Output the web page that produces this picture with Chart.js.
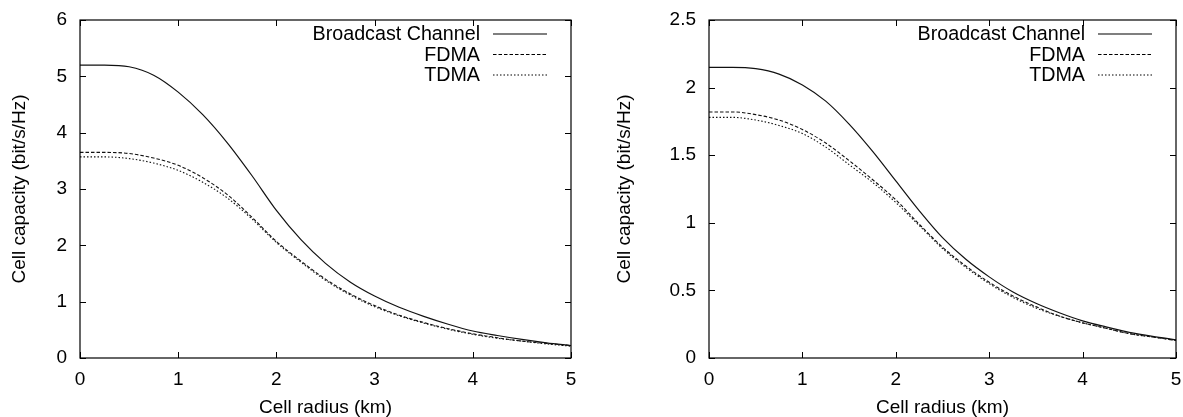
<!DOCTYPE html>
<html>
<head>
<meta charset="utf-8">
<script src="https://cdn.jsdelivr.net/npm/chart.js@4/dist/chart.umd.min.js"></script>
<style>
  body { margin: 0; background: #fff; }
  #left { position: absolute; left: 0; top: 0; }
  #right { position: absolute; left: 600px; top: 0; }
</style>
</head>
<body>
<canvas id="left" width="600" height="417"></canvas>
<canvas id="right" width="583" height="417"></canvas>
<script>
const radius = [0, 0.25, 0.5, 0.75, 1, 1.25, 1.5, 1.75, 2, 2.25, 2.5, 2.75, 3, 3.25, 3.5, 3.75, 4, 4.25, 4.5, 4.75, 5];
const seriesNames = ['Broadcast Channel', 'FDMA', 'TDMA'];

// left plot
const leftBroadcast = [5.20, 5.20, 5.17, 5.02, 4.72, 4.32, 3.82, 3.24, 2.62, 2.10, 1.68, 1.35, 1.10, 0.90, 0.74, 0.60, 0.48, 0.40, 0.33, 0.27, 0.22];
const leftFdma = [3.65, 3.65, 3.63, 3.55, 3.42, 3.20, 2.90, 2.50, 2.07, 1.72, 1.40, 1.14, 0.93, 0.76, 0.63, 0.52, 0.43, 0.36, 0.30, 0.26, 0.22];
const leftTdma = [3.57, 3.57, 3.54, 3.46, 3.33, 3.12, 2.84, 2.47, 2.05, 1.70, 1.38, 1.12, 0.91, 0.75, 0.62, 0.51, 0.42, 0.35, 0.30, 0.25, 0.21];

// right plot
const rightBroadcast = [2.15, 2.15, 2.14, 2.10, 2.02, 1.90, 1.73, 1.53, 1.31, 1.09, 0.89, 0.73, 0.60, 0.49, 0.405, 0.335, 0.275, 0.23, 0.19, 0.16, 0.135];
const rightFdma = [1.82, 1.82, 1.80, 1.76, 1.69, 1.59, 1.46, 1.32, 1.17, 0.99, 0.82, 0.68, 0.56, 0.46, 0.38, 0.31, 0.26, 0.22, 0.18, 0.155, 0.13];
const rightTdma = [1.78, 1.78, 1.76, 1.72, 1.66, 1.56, 1.43, 1.30, 1.15, 0.98, 0.81, 0.67, 0.55, 0.45, 0.37, 0.31, 0.26, 0.22, 0.18, 0.155, 0.13];

const FONT = 'Liberation Sans, Arial, sans-serif';
const dashes = [[], [3.5, 2], [1.5, 2]];
const widths = [1.2, 1.1, 1.1];

function pts(ys) {
  return radius.map((x, i) => ({ x: x, y: ys[i] }));
}

// gnuplot style frame, inward ticks and key at top right
const framePlugin = {
  id: 'frame',
  afterDraw(chart) {
    const { ctx, chartArea: a } = chart;
    const xs = chart.scales.x, ys = chart.scales.y;
    ctx.save();
    ctx.strokeStyle = '#000';
    ctx.lineWidth = 1.2;
    ctx.strokeRect(a.left, a.top, a.right - a.left, a.bottom - a.top);
    ctx.lineWidth = 1;
    const tl = 6;
    ctx.beginPath();
    xs.ticks.forEach(t => {
      const px = Math.round(xs.getPixelForValue(t.value)) + 0.5;
      ctx.moveTo(px, a.bottom); ctx.lineTo(px, a.bottom - tl);
      ctx.moveTo(px, a.top); ctx.lineTo(px, a.top + tl);
    });
    ys.ticks.forEach(t => {
      const py = Math.round(ys.getPixelForValue(t.value)) + 0.5;
      ctx.moveTo(a.left, py); ctx.lineTo(a.left + tl, py);
      ctx.moveTo(a.right, py); ctx.lineTo(a.right - tl, py);
    });
    ctx.stroke();

    // key
    ctx.font = '19.7px ' + FONT;
    ctx.fillStyle = '#000';
    ctx.textAlign = 'right';
    ctx.textBaseline = 'middle';
    chart.data.datasets.forEach((ds, i) => {
      const y = a.top + 14 + i * 20.5;
      ctx.fillText(ds.label, a.right - 91, y + 1);
      ctx.beginPath();
      ctx.setLineDash(ds.borderDash || []);
      ctx.lineWidth = ds.borderWidth;
      ctx.moveTo(a.right - 78, y);
      ctx.lineTo(a.right - 24, y);
      ctx.stroke();
      ctx.setLineDash([]);
    });
    ctx.restore();
  }
};

function makeChart(id, series, yMax, yStep, yWidth, padRight, yTitlePad) {
  return new Chart(document.getElementById(id), {
    type: 'line',
    data: {
      datasets: series.map((s, i) => ({
        label: seriesNames[i],
        data: pts(s),
        borderColor: '#111',
        borderWidth: widths[i],
        borderDash: dashes[i],
        pointRadius: 0,
        fill: false,
        cubicInterpolationMode: 'monotone'
      }))
    },
    options: {
      responsive: false,
      animation: false,
      layout: { padding: { top: 20, right: padRight, left: 0, bottom: 0 } },
      plugins: { legend: { display: false }, tooltip: { enabled: false } },
      scales: {
        x: {
          type: 'linear',
          min: 0,
          max: 5,
          ticks: { stepSize: 1, color: '#000', font: { family: FONT, size: 19 }, padding: 0, maxRotation: 0 },
          grid: { display: true, drawOnChartArea: false, drawTicks: true, tickLength: 10, color: 'transparent' },
          border: { display: false },
          title: { display: true, text: 'Cell radius (km)', color: '#000', font: { family: FONT, size: 19, lineHeight: 1 }, padding: { top: 0, bottom: 0 } },
          afterFit(scale) { scale.height = 59; }
        },
        y: {
          min: 0,
          max: yMax,
          ticks: { stepSize: yStep, color: '#000', font: { family: FONT, size: 19 }, padding: 0, callback: v => String(v) },
          grid: { display: true, drawOnChartArea: false, drawTicks: true, tickLength: 13, color: 'transparent' },
          border: { display: false },
          title: { display: true, text: 'Cell capacity (bit/s/Hz)', color: '#000', font: { family: FONT, size: 19, lineHeight: 1 }, padding: { top: yTitlePad, bottom: 0 } },
          afterFit(scale) { scale.width = yWidth; }
        }
      }
    },
    plugins: [framePlugin]
  });
}

makeChart('left', [leftBroadcast, leftFdma, leftTdma], 6, 1, 80, 29, 10.5);
makeChart('right', [rightBroadcast, rightFdma, rightTdma], 2.5, 0.5, 109, 7, 15.5);
</script>
</body>
</html>
